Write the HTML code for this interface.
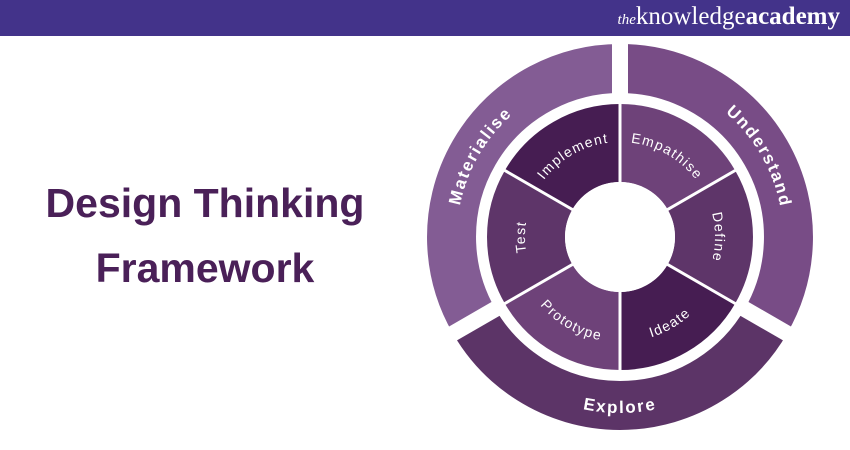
<!DOCTYPE html>
<html><head><meta charset="utf-8"><style>
html,body{margin:0;padding:0;background:#fff;}
body{width:850px;height:450px;overflow:hidden;position:relative;font-family:"Liberation Sans",sans-serif;}
.bar{position:absolute;left:0;top:0;width:850px;height:36px;background:#43338a;z-index:2;}
.logo{position:absolute;right:10px;top:3px;color:#fff;font-family:"Liberation Serif",serif;font-size:25px;letter-spacing:0px;}
.logo i{font-size:15px;}
.t{position:absolute;left:0;width:410px;text-align:center;color:#4a2058;font-weight:bold;font-size:41px;}
</style></head><body>
<div class="bar"><div class="logo"><i>the</i>knowledge<b>academy</b></div></div>
<div class="t" style="top:180px;">Design Thinking</div>
<div class="t" style="top:245px;">Framework</div>
<svg width="850" height="450" style="position:absolute;left:0;top:0">
<g fill="none" stroke-width="49">
<path d="M474.1,321.25 A168.5,168.5 0 0 1 620,68.5" stroke="#835c94"/>
<path d="M620,68.5 A168.5,168.5 0 0 1 765.9,321.25" stroke="#784c86"/>
<path d="M765.9,321.25 A168.5,168.5 0 0 1 474.1,321.25" stroke="#5c3467"/>
</g>
<g stroke="#fff" stroke-width="16">
<line x1="620" y1="237" x2="620" y2="40"/>
<line x1="620" y1="237" x2="420" y2="352.5"/>
<line x1="620" y1="237" x2="820" y2="352.5"/>
</g>
<circle cx="620" cy="237" r="138" fill="#fff"/>
<g fill="none" stroke-width="78">
<path d="M538.6,190 A94,94 0 0 1 620,143" stroke="#461d52"/>
<path d="M620,143 A94,94 0 0 1 701.4,190" stroke="#6e4279"/>
<path d="M701.4,190 A94,94 0 0 1 701.4,284" stroke="#5e3569"/>
<path d="M701.4,284 A94,94 0 0 1 620,331" stroke="#461d52"/>
<path d="M620,331 A94,94 0 0 1 538.6,284" stroke="#6e4279"/>
<path d="M538.6,284 A94,94 0 0 1 538.6,190" stroke="#5e3569"/>
</g>
<g stroke="#fff" stroke-width="3">
<line x1="620" y1="237" x2="620" y2="100"/>
<line x1="620" y1="237" x2="620" y2="374"/>
<line x1="620" y1="237" x2="738.6" y2="168.5"/>
<line x1="620" y1="237" x2="738.6" y2="305.5"/>
<line x1="620" y1="237" x2="501.4" y2="168.5"/>
<line x1="620" y1="237" x2="501.4" y2="305.5"/>
</g>
<circle cx="620" cy="237" r="55" fill="#fff"/>
<defs>
<path id="pM" d="M478.8,318.5 A163,163 0 0 1 620,74"/>
<path id="pU" d="M620,74 A163,163 0 0 1 761.2,318.5"/>
<path id="pE" d="M467.6,325 A176,176 0 0 0 772.4,325"/>
<path id="pI" d="M537.7,189.5 A95,95 0 0 1 620,142"/>
<path id="pEm" d="M620,142 A95,95 0 0 1 702.3,189.5"/>
<path id="pD" d="M702.3,189.5 A95,95 0 0 1 702.3,284.5"/>
<path id="pT" d="M537.7,284.5 A95,95 0 0 1 537.7,189.5"/>
<path id="pP" d="M529.1,289.5 A105,105 0 0 0 620,342"/>
<path id="pId" d="M620,342 A105,105 0 0 0 710.9,289.5"/>
</defs>
<g fill="#fff" font-family="Liberation Sans,sans-serif" text-anchor="middle">
<g font-size="17" font-weight="bold" letter-spacing="1.8">
<text><textPath href="#pM" startOffset="50%">Materialise</textPath></text>
<text><textPath href="#pU" startOffset="50%">Understand</textPath></text>
<text><textPath href="#pE" startOffset="50%">Explore</textPath></text>
</g>
<g font-size="14" letter-spacing="1.3">
<text><textPath href="#pI" startOffset="50%">Implement</textPath></text>
<text><textPath href="#pEm" startOffset="50%">Empathise</textPath></text>
<text><textPath href="#pD" startOffset="50%">Define</textPath></text>
<text><textPath href="#pT" startOffset="50%">Test</textPath></text>
<text><textPath href="#pP" startOffset="50%">Prototype</textPath></text>
<text><textPath href="#pId" startOffset="50%">Ideate</textPath></text>
</g>
</g>
</svg>
</body></html>
